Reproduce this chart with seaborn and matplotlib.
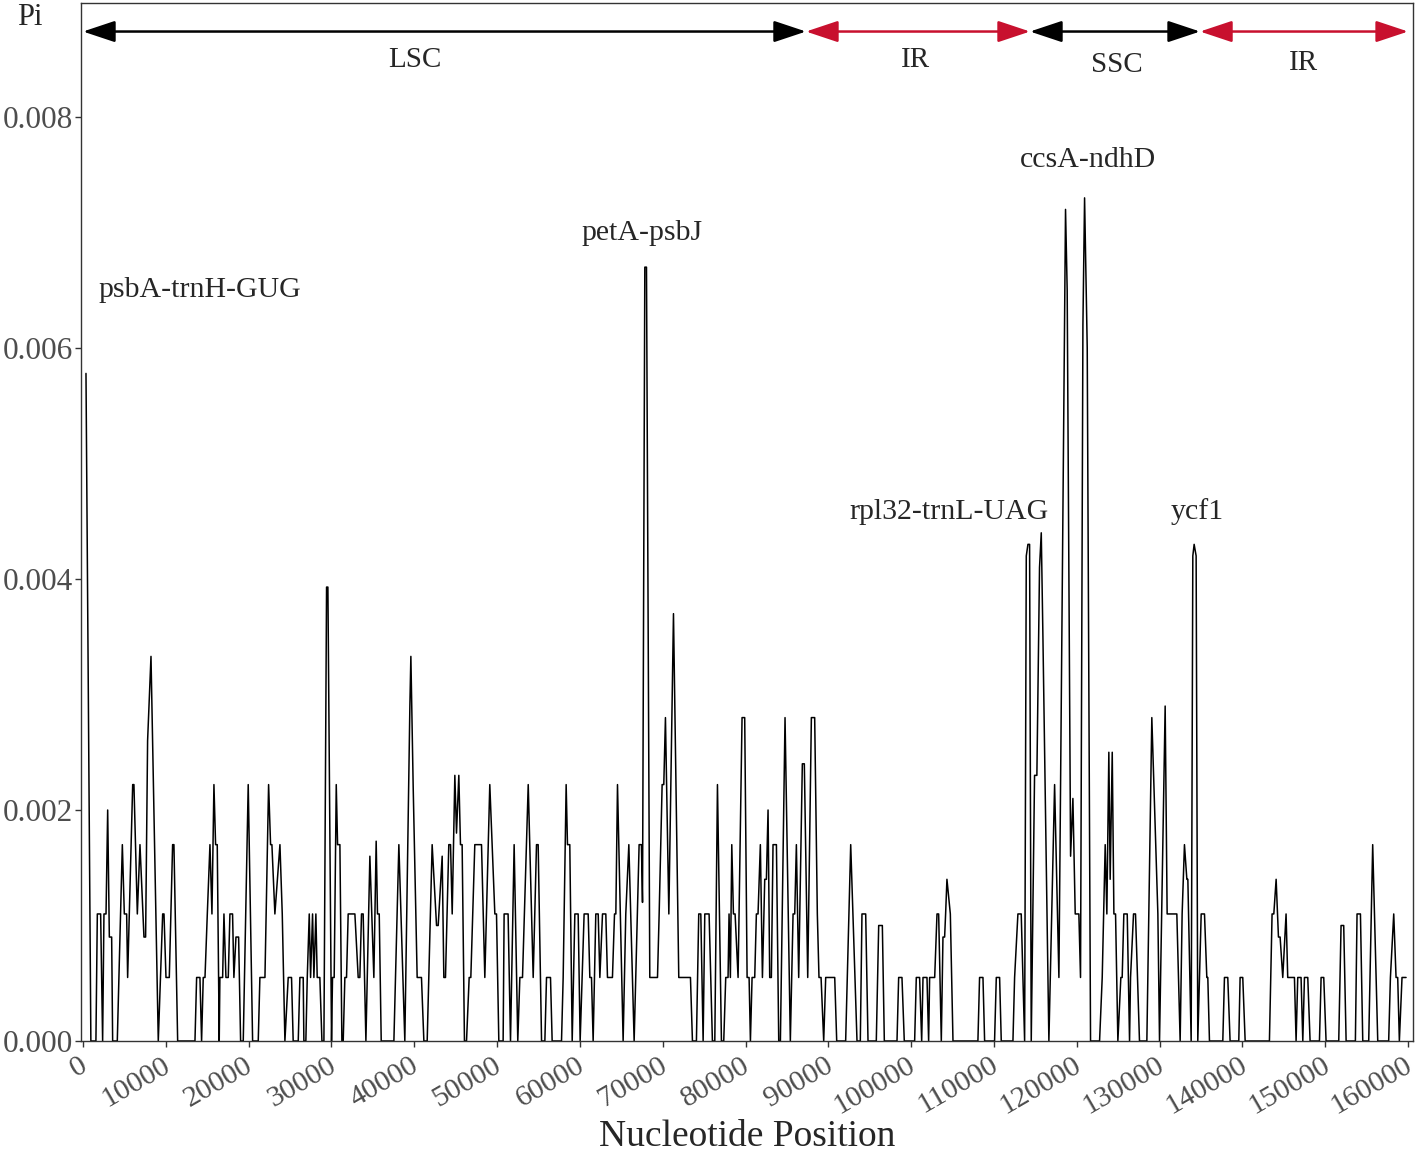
import numpy as np
import pandas as pd
import matplotlib
matplotlib.use('Agg')
import matplotlib.pyplot as plt
import matplotlib.transforms as mtransforms
import seaborn as sns

# Fenêtres glissantes : position (pb) et diversité nucléotidique Pi
pos_lsc = [360, 950, 1560, 1730, 2130, 2370, 2530, 2780, 2980, 3180, 3460, 3580, 4140, 4750,
           4990, 5270, 5390, 5590, 6000, 6150, 6560, 6880, 7360, 7560, 7800, 8210, 9090, 9620,
           9780, 10020, 10420, 10820, 10980, 11430, 13520, 13720, 14120, 14320, 14520, 14730,
           15010, 15330, 15570, 15810, 16010, 16210, 16450, 16530, 16860, 17020, 17260, 17540,
           17740, 18060, 18220, 18470, 18790, 19030, 19350, 19950, 20480, 21160, 21360, 21970,
           22410, 22650, 22810, 23170, 23780, 24060, 24380, 24780, 25180, 25380, 25990, 26190,
           26590, 26670, 26910, 27080, 27320, 27480, 27720, 27880, 28120, 28280, 28600, 28850,
           29090, 29410, 29570, 30010, 30130, 30330, 30580, 30740, 31020, 31260, 31420, 31620,
           31820, 32020, 32830, 33230, 33430, 33630, 33830, 34160, 34640, 35120, 35400, 35560,
           35770, 36010, 37540, 38140, 38860, 39470, 39590, 39870, 40350, 40870, 41160, 41560,
           42160, 42690, 42890, 43370, 43570, 43770, 44170, 44380, 44580, 44900, 45100, 45380,
           45580, 45780, 46060, 46310, 46630, 46830, 47310, 48120, 48520, 49120, 49400, 49730,
           49930, 50210, 50730, 50850, 51330, 51620, 52060, 52500, 52750, 53070, 53760, 54360,
           54760, 54960, 55370, 55770, 55970, 56450, 56650, 57780, 57980, 58340, 58500, 58780,
           59070, 59390, 59790, 60030, 60510, 61000, 61200, 61400, 61600, 61920, 62210, 62410,
           62730, 63130, 63330, 63930, 64180, 64340, 64540, 65220, 65540, 65910, 66550, 67150,
           67430, 67560, 67840, 68040, 68440, 69370, 69570, 69930, 70130, 70330, 70740, 71300,
           71940, 73350, 73590, 74070, 74350, 74600, 74880, 75080, 75600, 76000, 76290, 76610,
           77090, 77370, 77610, 77890, 78010, 78170, 78340, 78540, 78740, 79100, 79580, 79900,
           80190, 80430, 80590, 80790, 81110, 81310, 81510, 81790, 82040, 82320, 82520, 82720,
           82920, 83120, 83320, 83730, 84010, 84210, 84770, 85410, 85740, 85940, 86140, 86420,
           86860, 87100]
pi_lsc = [.00578, 0, 0, .0011, .0011, 0, .0011, .0011, .0020, .0009, .0009, 0, 0, .0017,
          .0011, .0011, .00055, .0011, .00222, .00222, .0011, .0017, .0009, .0009, .0026, .00333, 0, .0011,
          .0011, .00055, .00055, .0017, .0017, 0, 0, .00055, .00055, 0, .00055, .00055,
          .0011, .0017, .0011, .00222, .0017, .0017, 0, .00055, .00055, .0011, .00055, .00055,
          .0011, .0011, .00055, .0009, .0009, 0, 0, .00222, 0, 0, .00055, .00055,
          .00222, .0017, .0017, .0011, .0017, .0011, 0, .00055, .00055, 0, 0, .00055,
          .00055, 0, 0, .00055, .0011, .00055, .0011, .00055, .0011, .00055, .00055, 0,
          0, .00393, .00393, 0, .00055, .00055, .00222, .0017, .0017, 0, 0, .00055,
          .00055, .0011, .0011, .00055, .00055, .0011, .0011, 0, .0016, .00055, .00173, .0011,
          .0011, 0, 0, .0017, 0, .0029, .00333, .0022, .00055, .00055, 0, 0,
          .0017, .001, .001, .0016, .00055, .00055, .0017, .0017, .0011, .0023, .0018, .0023,
          .0017, .0017, 0, 0, .00055, .00055, .0017, .0017, .00055, .00222, .0017, .0011,
          .0011, 0, 0, .0011, .0011, 0, .0017, 0, .00055, .00055, .00222, .00055,
          .0017, .0017, 0, 0, .00055, .00055, 0, 0, .00055, .00222, .0017, .0017,
          0, .0011, .0011, 0, .0011, .0011, .00055, .00055, 0, .0011, .0011, .00055,
          .0011, .0011, .00055, .00055, .0011, .0011, .00222, 0, .0011, .0017, 0, .0017,
          .0017, .0012, .0067, .0067, .00055, .00055, .0011, .00222, .00222, .0028, .0011, .0037,
          .00055, .00055, 0, 0, .0011, .0011, 0, .0011, .0011, 0, 0, .00222,
          0, 0, .00055, .00055, .0011, .00055, .0017, .0011, .0011, .00055, .0028, .0028,
          .00055, .00055, 0, .00055, .00055, .0011, .0011, .0017, .00055, .0014, .0014, .0020,
          .00055, .00055, .0017, .0017, 0, 0, .0028, 0, .0011, .0011, .0017, .00055,
          .0024, .0024]

pos_irb = [87510, 87950, 88350, 88670, 88870, 89120, 89440, 89680, 90770, 91010, 92090, 92700,
           93460, 93860, 94060, 94510, 94790, 95790, 96080, 96520, 96760, 98290, 98490, 98890,
           99170, 100420, 100620, 101020, 101270, 101430, 101910, 102110, 102230, 102840, 103120,
           103320, 103640, 103840, 104040, 104160, 104320, 104730, 105050, 108060, 108260, 108670,
           108870, 110070, 110280, 110680, 110880, 112290, 112490, 112890, 113290, 113700, 113900,
           114100]
pi_irb = [.00055, .0028, .0028, .0011, .00055, .00055, 0, .00055, .00055, 0, 0, .0017,
          0, 0, .0011, .0011, 0, 0, .001, .001, 0, 0, .00055, .00055,
          0, 0, .00055, .00055, 0, .00055, .00055, 0, .00055, .00055, .0011,
          .0011, 0, .0009, .0009, .0011, .0014, .0011, 0, 0, .00055, .00055,
          0, 0, .00055, .00055, 0, 0, .00055, .0011, .0011, 0, .0042,
          .0043]

pos_ssc = [114300, 114500, 114900, 115180, 115500, 115710, 115910, 116630, 117320, 117840,
           118640, 118840, 119250, 119530, 119810, 120250, 120450, 120740, 120940, 121260, 121660,
           122750, 123070, 123430, 123630, 123870, 124030, 124280, 124480, 124680, 124960, 125320,
           125480, 125680, 126090, 126370, 126490, 126850, 127090, 127570, 128460, 129060, 129790,
           129990, 130670, 130910, 132080, 132480, 132720, 133000, 133290, 133410, 133810, 134010,
           134170, 134410, 134610]
pi_ssc = [.0043, 0, .0023, .0023, .0041, .0044, .0035, 0, .00222, .00055,
          .0072, .0065, .0016, .0021, .0011, .0011, .00055, .0062, .0073, .0060, 0,
          0, .00055, .0017, .0011, .0025, .0014, .0025, .0011, .0011, 0, .00055,
          .00055, .0011, .0011, 0, .00055, .0011, .0011, 0, 0, .0028, .0011,
          0, .0029, .0011, .0011, 0, .0011, .0017, .0014, .0014, 0, .0042,
          .0043, .0042, 0]

pos_ira = [135020, 135420, 135700, 135820, 136020, 137630, 137830, 138230, 138510, 139560,
           139720, 140040, 140330, 143260, 143580, 143790, 144070, 144350, 144550, 144870, 145270,
           145470, 146280, 146480, 146680, 147080, 147290, 147490, 147890, 148170, 149300, 149500,
           149820, 150100, 151630, 151910, 152230, 152520, 153640, 153840, 154250, 154530, 155250,
           155730, 156340, 157660, 157870, 158270, 158550, 158750, 158950, 159270, 159760]
pi_ira = [.0011, .0011, .00055, .00055, 0, 0, .00055, .00055, 0, 0,
          .00055, .00055, 0, 0, .0011, .0011, .0014, .0009, .0009, .00055, .0011,
          .00055, .00055, 0, .00055, .00055, 0, .00055, .00055, 0, 0, .00055,
          .00055, 0, 0, .001, .001, 0, 0, .0011, .0011, 0, 0,
          .0017, 0, 0, .00055, .0011, .00055, .00055, 0, .00055, .00055]

# Régions du chloroplaste
regions = ['LSC', 'IR', 'SSC', 'IR']
region_bounds = [0, 87300, 114350, 134880, 160000]
region_colors = ['black', '#C8102E', 'black', '#C8102E']
region_label_x = [40070, 100540, 124800, 147370]
region_label_y = [0.00849, 0.00849, 0.00845, 0.00847]

# Régions les plus variables
hot_labels = ['psbA-trnH-GUG', 'petA-psbJ', 'rpl32-trnL-UAG', 'ccsA-ndhD', 'ycf1']
hot_x = [14120, 67470, 104530, 121300, 134580]
hot_y = [0.0065, 0.0070, 0.00458, 0.00763, 0.00458]

df = pd.DataFrame({
    'Position': pos_lsc + pos_irb + pos_ssc + pos_ira,
    'Pi': pi_lsc + pi_irb + pi_ssc + pi_ira,
})

sns.set_style('white')
plt.rcParams['font.family'] = ['Liberation Serif', 'DejaVu Serif']

fig = plt.figure(figsize=(14.16, 11.55), dpi=100)
ax = fig.add_axes([0.0572, 0.0987, 0.9407, 0.8987])

sns.lineplot(data=df, x='Position', y='Pi', estimator=None, sort=False,
             color='black', linewidth=1.1, ax=ax)

ax.set_xlim(-242, 160600)
ax.set_ylim(0, 0.008987)

# Flèches des régions
for i, name in enumerate(regions):
    ax.annotate('', xy=(region_bounds[i + 1], 0.00874), xytext=(region_bounds[i], 0.00874),
                arrowprops=dict(arrowstyle='<|-|>,head_length=0.9,head_width=0.3',
                                color=region_colors[i], lw=1.8, mutation_scale=22,
                                shrinkA=0, shrinkB=0))
    ax.text(region_label_x[i], region_label_y[i], name, ha='center', va='center', fontsize=21)

for lab, x, y in zip(hot_labels, hot_x, hot_y):
    ax.text(x, y, lab, ha='center', va='center', fontsize=21.5)

ax.set_xticks(np.arange(0, 160001, 10000))
ax.set_xticklabels([str(v) for v in range(0, 160001, 10000)], rotation=30,
                   ha='right', va='top', rotation_mode='anchor')
ax.set_yticks([0, 0.002, 0.004, 0.006, 0.008])
ax.set_yticklabels(['0.000', '0.002', '0.004', '0.006', '0.008'])
ax.tick_params(axis='both', direction='out', length=4, width=1, color='#333333',
               labelcolor='#4D4D4D', bottom=True, left=True)
ax.tick_params(axis='x', labelsize=21.5, pad=4)
ax.tick_params(axis='y', labelsize=22.5, pad=2)

# petit décalage à gauche pour que "160000" ne soit pas coupé
shift = mtransforms.ScaledTranslation(-4 / 100, 0, fig.dpi_scale_trans)
for lbl in ax.get_xticklabels():
    lbl.set_transform(lbl.get_transform() + shift)

for sp in ax.spines.values():
    sp.set_color('#333333')
    sp.set_linewidth(1.0)

ax.set_xlabel('Nucleotide Position', fontsize=27)
ax.xaxis.set_label_coords(0.5, -0.076)
ax.set_ylabel('Pi', fontsize=22, rotation=0, ha='center', va='center')
ax.yaxis.set_label_coords(-0.0383, 0.9856)

plt.savefig('out.png', dpi=100)
plt.close()
